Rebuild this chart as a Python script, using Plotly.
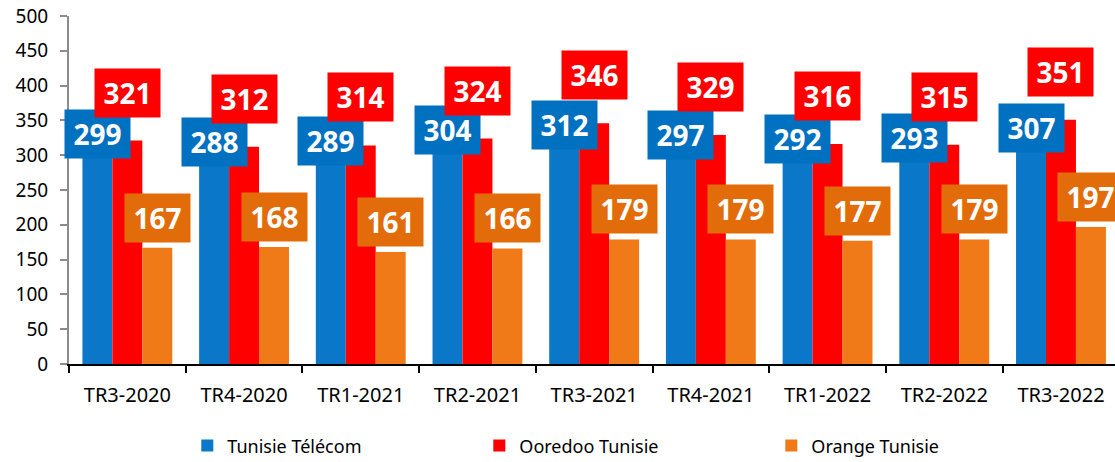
import plotly.graph_objects as go

categories = ["TR3-2020", "TR4-2020", "TR1-2021", "TR2-2021", "TR3-2021",
              "TR4-2021", "TR1-2022", "TR2-2022", "TR3-2022"]
tunisie_telecom = [299, 288, 289, 304, 312, 297, 292, 293, 307]
ooredoo = [321, 312, 314, 324, 346, 329, 316, 315, 351]
orange = [167, 168, 161, 166, 179, 179, 177, 179, 197]
series_names = ["Tunisie Télécom", "Ooredoo Tunisie", "Orange Tunisie"]

FONT = "Noto Sans"
bar_colors = ["#0A77C9", "#FF0000", "#F07A17"]
box_colors = ["#0070C0", "#FF0000", "#E36C0A"]
label_shift = [22, 48, 30]
bargap = 0.23

fig = go.Figure()
all_series = [tunisie_telecom, ooredoo, orange]
for name, vals, col in zip(series_names, all_series, bar_colors):
    fig.add_trace(go.Bar(x=categories, y=vals, name=name,
                         marker=dict(color=col, line=dict(width=0))))

bw = (1 - bargap) / 3
for s, vals in enumerate(all_series):
    for i, v in enumerate(vals):
        fig.add_annotation(x=i + (s - 1) * bw, y=v, xref="x", yref="y",
                           text=f"<b>{v}</b>", showarrow=False,
                           yanchor="middle", xanchor="center",
                           yshift=label_shift[s],
                           bgcolor=box_colors[s], width=65, height=48,
                           borderpad=0,
                           font=dict(family=FONT, size=28, color="white"))

fig.update_layout(
    width=1115, height=462,
    margin=dict(l=69, r=0, t=16, b=98, autoexpand=False),
    paper_bgcolor="white", plot_bgcolor="white",
    barmode="group", bargap=bargap, bargroupgap=0,
    font=dict(family=FONT, size=19, color="#000000"),
    showlegend=True,
    legend=dict(orientation="h", xref="container", x=0.168, xanchor="left",
                yref="container", y=0.035, yanchor="middle",
                entrywidth=247, entrywidthmode="pixels",
                font=dict(family=FONT, size=18, color="#000000"),
                itemwidth=30, traceorder="normal"),
    xaxis=dict(range=[-0.5, 8.463], showline=True, linecolor="#000000",
               linewidth=2, ticks="outside", tickson="boundaries",
               ticklen=7, tickwidth=2, tickcolor="#000000",
               tickfont=dict(family=FONT, size=20), showgrid=False,
               ticklabelstandoff=12),
    yaxis=dict(range=[0, 500], dtick=50, showline=True, linecolor="#8C8C8C",
               linewidth=2, ticks="outside", ticklen=7, tickwidth=1.5,
               tickcolor="#8C8C8C", tickfont=dict(family=FONT, size=19),
               showgrid=False, zeroline=False, ticklabelstandoff=8),
)

fig.write_html("out.html", config={"displayModeBar": False},
               post_script="document.body.style.margin='0';document.body.style.overflow='hidden';")
